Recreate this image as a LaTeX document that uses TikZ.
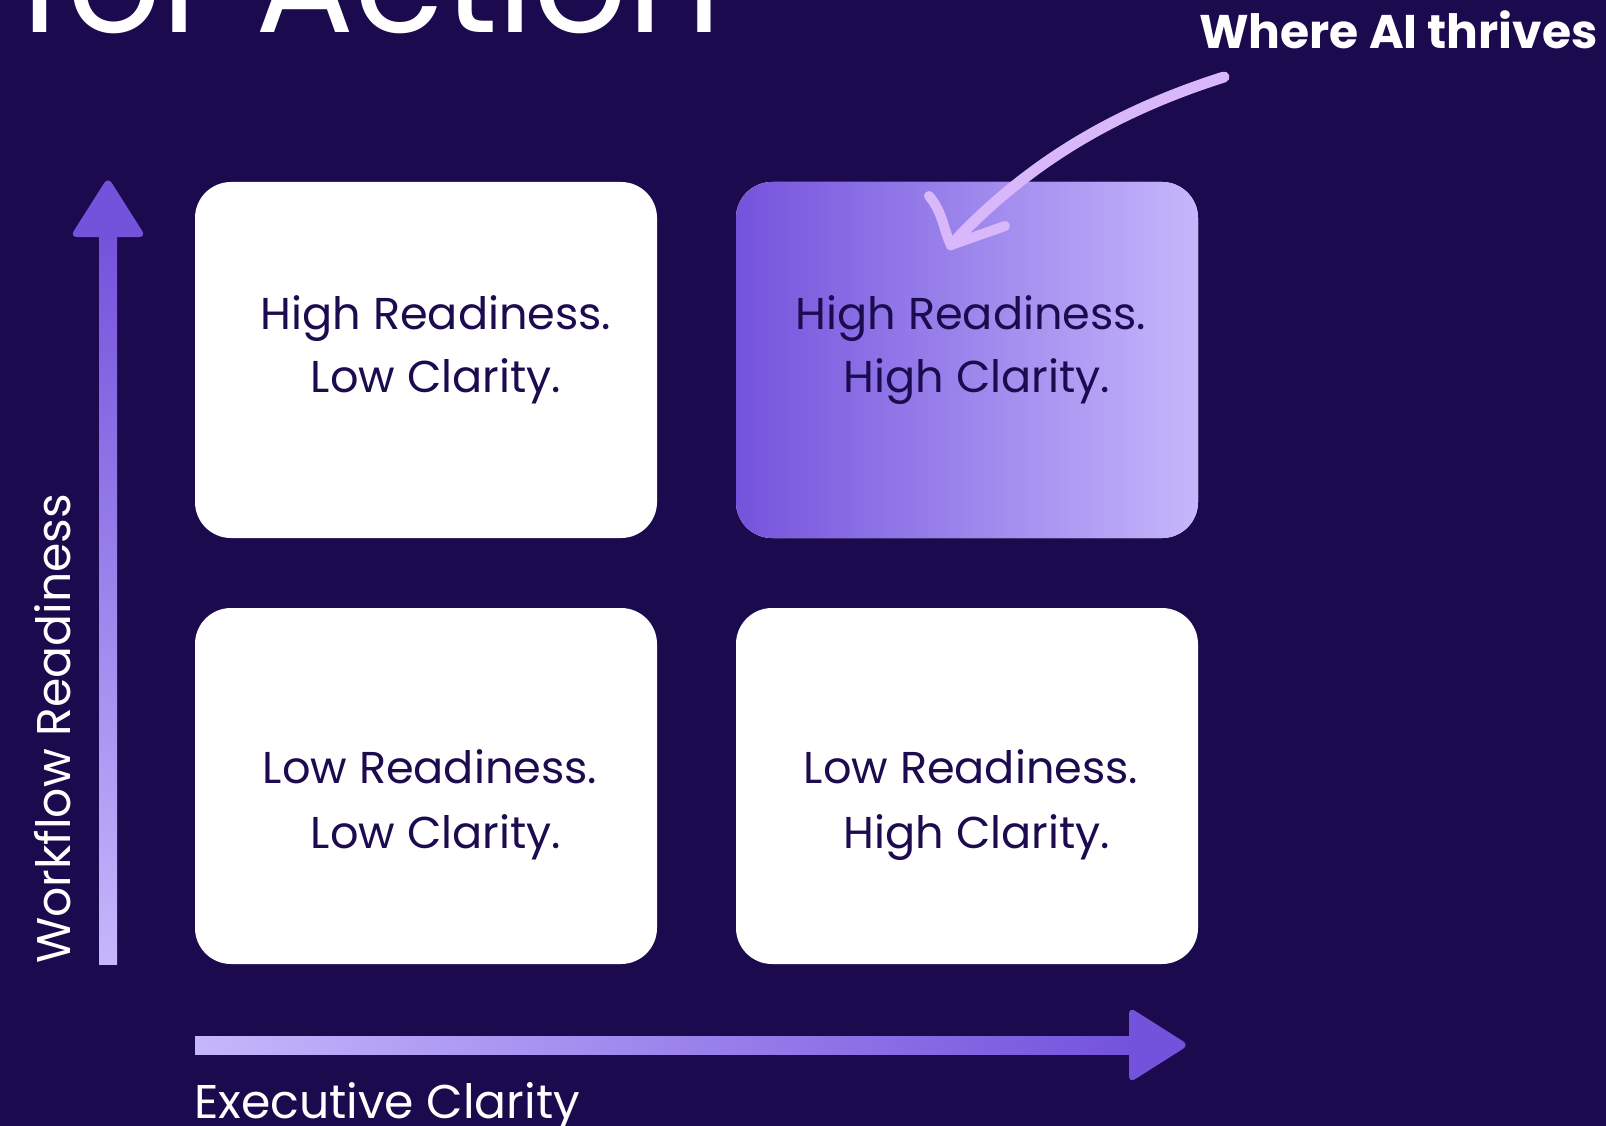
\documentclass[tikz,border=0pt]{standalone}
\usepackage{fontspec}
\setmainfont{Poppins}
\usetikzlibrary{positioning}

\definecolor{night}{HTML}{1B0A4D}
\definecolor{ink}{HTML}{1C0B4F}
\definecolor{violetdeep}{HTML}{7453DC}
\definecolor{violetpale}{HTML}{C5B7FC}
\definecolor{lilac}{HTML}{D8B8FB}

\tikzset{
  quad/.style={fill=white, rounded corners=36pt, minimum width=462pt,
    minimum height=356pt, inner sep=0pt},
  quadtext/.style={text=ink, inner sep=0pt, anchor=base,
    font=\fontsize{44.6}{54}\selectfont},
  axislabel/.style={text=white, inner sep=0pt, anchor=base west,
    font=\fontsize{47.3}{56}\selectfont},
  handline/.style={lilac, line width=10pt, line cap=round, line join=round},
}

\begin{document}
\begin{tikzpicture}[x=1pt,y=-1pt]
% ====================
% Background, page size fixed to the canvas
\fill[night] (0,0) rectangle (1606,1126);
\useasboundingbox (0,0) rectangle (1606,1126);
\clip (0,0) rectangle (1606,1126);

% Title runs off the top edge
\node[text=white, inner sep=0pt, anchor=base west,
  font=\fontsize{147}{150}\selectfont] (title) at (19,33) {for Action};

% ====================
% The four quadrants
\node[quad] (hrlc) at (426,360) {};
\node[quad, left color=violetdeep, right color=violetpale] (hrhc) at (967,360) {};
\node[quad] (lrlc) at (426,786) {};
\node[quad] (lrhc) at (967,786) {};

% Two lines of text in each quadrant
\node[quadtext] (hrlc-a) at (436,329) {High Readiness.};
\node[quadtext] (hrlc-b) at (436,392) {Low Clarity.};
\node[quadtext] (hrhc-a) at (971,329) {High Readiness.};
\node[quadtext] (hrhc-b) at (977,392) {High Clarity.};
\node[quadtext] (lrlc-a) at (430,783) {Low Readiness.};
\node[quadtext] (lrlc-b) at (436,848) {Low Clarity.};
\node[quadtext] (lrhc-a) at (971,783) {Low Readiness.};
\node[quadtext] (lrhc-b) at (977,848) {High Clarity.};

% ====================
% Vertical axis: shaft fades out downwards, head on top
\shade[top color=violetdeep, bottom color=violetpale] (99,236) rectangle (117,964);
\fill[violetdeep, rounded corners=7pt] (70,237) -- (108,177) -- (146,237) -- cycle;
\node[axislabel, rotate=90] (ylabel) at (70,964) {Workflow Readiness};

% Horizontal axis: shaft fades out to the left, head on the right
\shade[left color=violetpale, right color=violetdeep] (195,1036) rectangle (1132,1054);
\fill[violetdeep, rounded corners=7pt] (1129,1007) -- (1189,1045) -- (1129,1083) -- cycle;
\node[axislabel] (xlabel) at (194,1118) {Executive Clarity};

% ====================
% Callout with a hand drawn arrow into the top right quadrant
\node[text=white, inner sep=0pt, anchor=base west,
  font=\fontsize{47.2}{54}\selectfont\bfseries] (callout) at (1199,49) {Where AI thrives};
\coordinate (aistart) at (1224,77);
\coordinate (aitip) at (951,245);
\draw[handline, line width=11pt] (aistart) .. controls (1120,110) and (1030,160) .. (aitip);
\draw[handline] (929,196) .. controls (943,212) and (944,232) .. (aitip) -- (1005,226);
\end{tikzpicture}
\end{document}
